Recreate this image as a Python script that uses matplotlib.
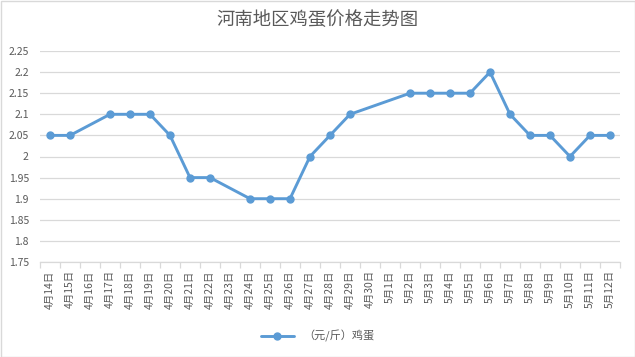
import numpy as np
import matplotlib
matplotlib.use("Agg")
import matplotlib.pyplot as plt
from matplotlib.patches import Rectangle

plt.rcParams['font.family'] = ['Noto Sans CJK SC', 'DejaVu Sans']

# === Data ===
dates = ['4月14日', '4月15日', '4月16日', '4月17日', '4月18日', '4月19日', '4月20日',
         '4月21日', '4月22日', '4月23日', '4月24日', '4月25日', '4月26日', '4月27日',
         '4月28日', '4月29日', '4月30日', '5月1日', '5月2日', '5月3日', '5月4日',
         '5月5日', '5月6日', '5月7日', '5月8日', '5月9日', '5月10日', '5月11日', '5月12日']
price = [2.05, 2.05, np.nan, 2.1, 2.1, 2.1, 2.05,
         1.95, 1.95, np.nan, 1.9, 1.9, 1.9, 2.0,
         2.05, 2.1, np.nan, np.nan, 2.15, 2.15, 2.15,
         2.15, 2.2, 2.1, 2.05, 2.05, 2.0, 2.05, 2.05]
series_name = '（元/斤）鸡蛋'
title = '河南地区鸡蛋价格走势图'
yticks = [1.75, 1.8, 1.85, 1.9, 1.95, 2.0, 2.05, 2.1, 2.15, 2.2, 2.25]

price = np.array(price, dtype=float)
x = np.arange(len(dates))
ok = ~np.isnan(price)

fig = plt.figure(figsize=(6.35, 3.57), dpi=100)
ax = fig.add_axes([40 / 635, 1 - 262 / 357, 580 / 635, 211 / 357])

blue = '#5B9BD5'
ax.plot(x[ok], price[ok], color=blue, linewidth=2.1, marker='o', markersize=5,
        label=series_name, solid_capstyle='round', zorder=3)

ax.set_xlim(-0.5, len(dates) - 0.5)
ax.set_ylim(1.75, 2.25)
ax.set_yticks(yticks)
ax.set_yticklabels([f'{v:g}' for v in yticks], fontsize=7.5, color='#595959')
ax.yaxis.grid(True, color='#D9D9D9', linewidth=0.9)
ax.set_axisbelow(True)
ax.tick_params(axis='y', length=0, pad=8)

# category tick marks sit between categories, labels at centres
ax.set_xticks(np.arange(len(dates) + 1) - 0.5, minor=False)
ax.set_xticklabels([''] * (len(dates) + 1))
ax.tick_params(axis='x', which='major', length=4, color='#D9D9D9', width=0.9)
ax.set_xticks(x, minor=True)
ax.set_xticklabels(dates, minor=True, rotation=90, fontsize=7.5, color='#595959')
ax.tick_params(axis='x', which='minor', length=0, pad=6)

for s in ['top', 'right', 'left']:
    ax.spines[s].set_visible(False)
ax.spines['bottom'].set_color('#D9D9D9')
ax.spines['bottom'].set_linewidth(0.9)

fig.text(0.5, 1 - 20 / 357, title, ha='center', va='center', fontsize=13.2, color='#595959')

leg = fig.legend(loc='center', bbox_to_anchor=(0.5, 1 - 336 / 357), frameon=False,
                 fontsize=8, handlelength=3)
for t in leg.get_texts():
    t.set_color('#595959')

fig.patches.append(Rectangle((0.5 / 635, 0.5 / 357), 1 - 1 / 635, 1 - 1 / 357,
                             transform=fig.transFigure, fill=False,
                             edgecolor='#D9D9D9', linewidth=1))

fig.savefig('out.png', dpi=100)
